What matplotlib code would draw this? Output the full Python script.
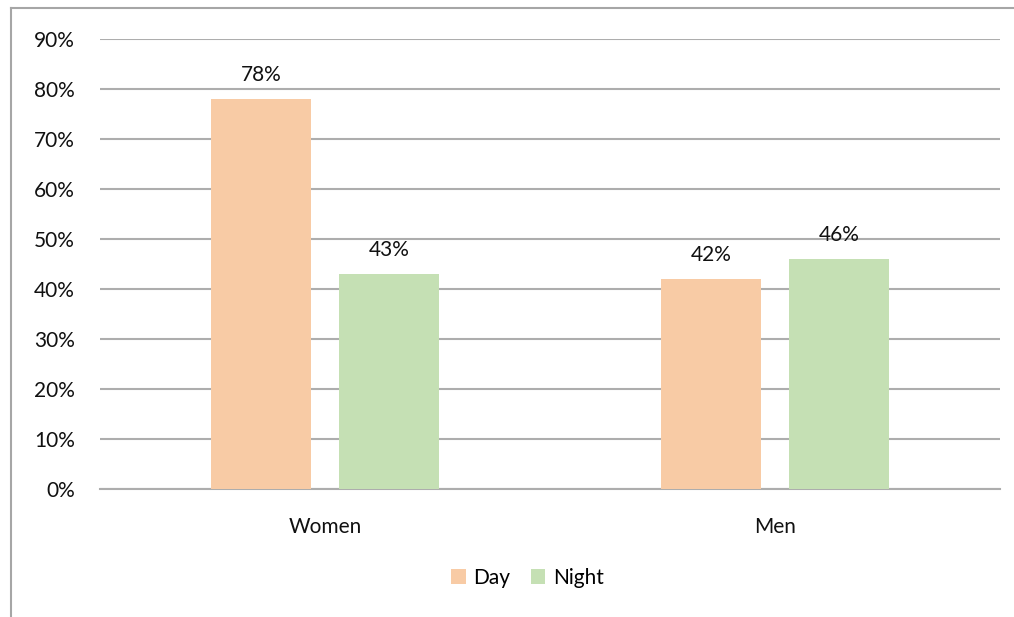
import matplotlib.pyplot as plt
import numpy as np
from matplotlib.lines import Line2D
from matplotlib.ticker import PercentFormatter

plt.rcParams['font.family'] = ['Lato', 'DejaVu Sans']

groups = ['Women', 'Men']
series = ['Day', 'Night']
day = [0.78, 0.42]
night = [0.43, 0.46]
colors = ['#F8CBA5', '#C5E0B4']

fig = plt.figure(figsize=(10.14, 6.17), dpi=100)
ax = fig.add_axes([0.0986, 0.2075, 0.8874, 0.7293])

x = np.arange(len(groups))
w = 0.222
off = 0.142
for vals, sign, col, name in [(day, -1, colors[0], series[0]), (night, 1, colors[1], series[1])]:
    bars = ax.bar(x + sign * off, vals, w, color=col, label=name, zorder=3)
    for b, v in zip(bars, vals):
        ax.annotate(f'{v:.0%}', (b.get_x() + b.get_width() / 2, v),
                    xytext=(0, 10), textcoords='offset points',
                    ha='center', va='bottom', fontsize=15, color='#111111')

ax.set_xlim(-0.5, 1.5)
ax.set_ylim(0, 0.9)
ax.set_yticks(np.arange(0, 0.91, 0.1))
ax.yaxis.set_major_formatter(PercentFormatter(1.0, decimals=0))
ax.set_xticks(x)
ax.set_xticklabels(groups)
ax.tick_params(axis='both', length=0, labelsize=15, colors='#111111')
ax.tick_params(axis='x', pad=20)
ax.tick_params(axis='y', pad=18)
ax.grid(axis='y', color='#ADADAD', linewidth=1.5, zorder=0)
for s in ['top', 'right', 'left']:
    ax.spines[s].set_visible(False)
ax.spines['bottom'].set_color('#ADADAD')
ax.spines['bottom'].set_linewidth(1.5)

ax.legend(loc='center', bbox_to_anchor=(0.52, 1 - 578 / 617), bbox_transform=fig.transFigure,
          ncol=2, frameon=False, fontsize=15, handlelength=0.7, handleheight=0.7,
          handletextpad=0.35, columnspacing=1.0)

# outer chart border (left and top edges visible)
fig.add_artist(Line2D([11 / 1014, 11 / 1014], [0, 1 - 8 / 617], color='#A6A6A6', linewidth=1.5))
fig.add_artist(Line2D([11 / 1014, 1], [1 - 8 / 617, 1 - 8 / 617], color='#A6A6A6', linewidth=1.5))

fig.savefig('out.png', dpi=100)
